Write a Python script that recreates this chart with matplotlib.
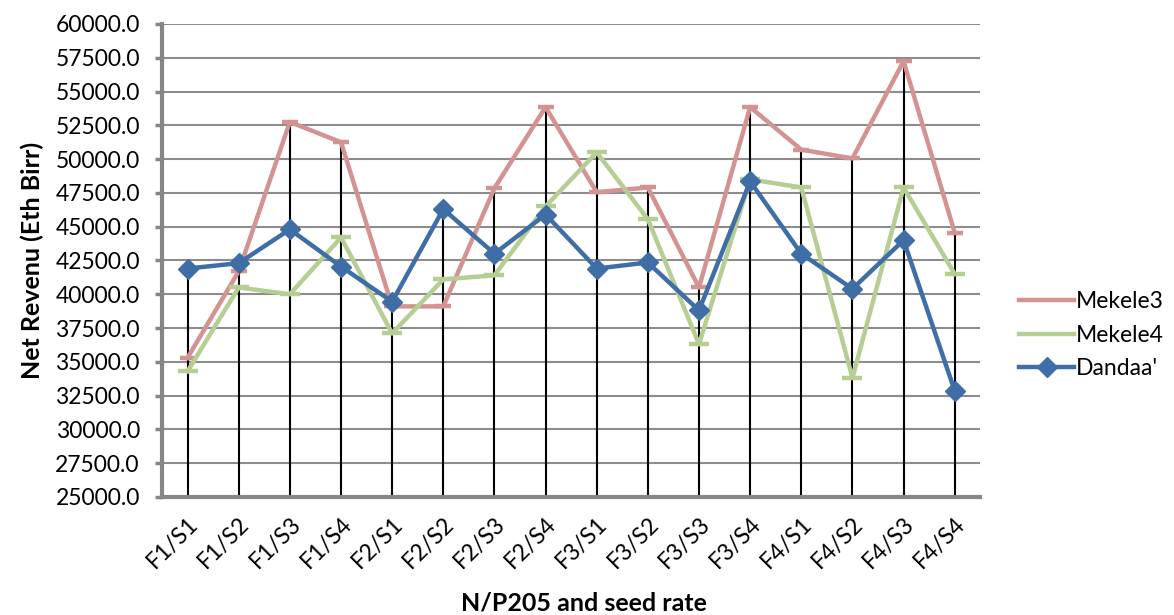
import matplotlib
matplotlib.use("Agg")
import matplotlib.pyplot as plt
import numpy as np

# categories and series values
categories = ["F1/S1", "F1/S2", "F1/S3", "F1/S4", "F2/S1", "F2/S2", "F2/S3", "F2/S4",
              "F3/S1", "F3/S2", "F3/S3", "F3/S4", "F4/S1", "F4/S2", "F4/S3", "F4/S4"]
mekele3 = [35300, 41700, 52750, 51250, 39100, 39100, 47850, 53850,
           47550, 47900, 40500, 53850, 50700, 50050, 57250, 44550]
mekele4 = [34300, 40500, 40000, 44200, 37100, 41100, 41400, 46500,
           50500, 45550, 36300, 48500, 47900, 33800, 47900, 41500]
dandaa = [41900, 42300, 44800, 42050, 39450, 46300, 43000, 45900,
          41900, 42350, 38800, 48350, 43000, 40400, 44000, 32850]
yticks = np.arange(25000, 60001, 2500)

plt.rcParams['font.family'] = ['Lato', 'DejaVu Sans']

fig = plt.figure(figsize=(11.74, 6.15), dpi=100)
ax = fig.add_axes([0.138, 0.192, 0.697, 0.769])

x = np.arange(len(categories))

# drop lines from the highest point down to the axis
tops = np.max([mekele3, mekele4, dandaa], axis=0)
ax.vlines(x, 25000, tops, color="black", lw=1.5, zorder=2)

ax.plot(x, mekele3, color="#D39392", lw=3.2, marker="_", ms=12, mew=3.2,
        label="Mekele3", zorder=3)
ax.plot(x, mekele4, color="#B6CD94", lw=3.2, marker="_", ms=15, mew=3.2,
        label="Mekele4", zorder=4)
ax.plot(x, dandaa, color="#3F6EA7", lw=3.2, marker="D", ms=10,
        label="Dandaa'", zorder=5)

ax.set_xlim(-0.5, len(categories) - 0.5)
ax.set_ylim(25000, 60000)
ax.set_yticks(yticks)
ax.set_yticklabels([f"{v:.1f}" for v in yticks], fontsize=16.5)
ax.set_xticks(x)
ax.set_xticklabels(categories, rotation=45, ha="right", rotation_mode="anchor", fontsize=16.5)
ax.tick_params(axis="x", length=0, pad=12)
ax.tick_params(axis="y", length=5, width=2.5, color="#868686", pad=11)

ax.grid(axis="y", color="#8C8C8C", lw=1.5, zorder=1)
ax.set_axisbelow(True)
for side in ["top", "right"]:
    ax.spines[side].set_visible(False)
for side in ["left", "bottom"]:
    ax.spines[side].set_color("#868686")
    ax.spines[side].set_linewidth(3)

ax.set_ylabel("Net Revenu (Eth Birr)", fontsize=18, fontweight="bold", labelpad=8)
fig.text(0.497, 0.02, "N/P205 and seed rate", fontsize=18, fontweight="bold",
         ha="center", va="center")

h, l = ax.get_legend_handles_labels()
leg = fig.legend(h, l, loc="center left", bbox_to_anchor=(0.868, 0.455), frameon=False,
                 fontsize=16.5, handlelength=2.4, labelspacing=0.55, handletextpad=0.1,
                 borderpad=0, borderaxespad=0)
for line in leg.get_lines()[:2]:
    line.set_marker("")

fig.savefig("out.png", dpi=100)
